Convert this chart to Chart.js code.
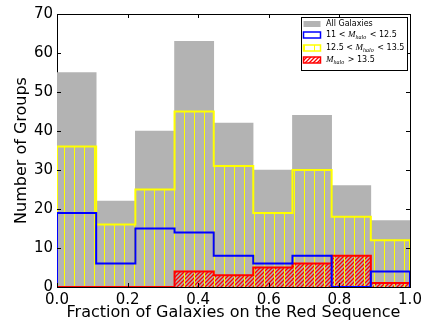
<!DOCTYPE html>
<html>
<head>
<meta charset="utf-8">
<script src="https://cdn.jsdelivr.net/npm/chart.js@4.4.0/dist/chart.umd.min.js"></script>
<style>
  html, body { margin: 0; padding: 0; background: #fff; }
  #wrap { width: 429px; height: 322px; }
</style>
</head>
<body>
<div id="wrap"><canvas id="histChart" width="429" height="322"></canvas></div>
<script>
// histogram bins (fraction on red sequence)
const binEdges = [0.0, 0.111, 0.222, 0.333, 0.444, 0.556, 0.667, 0.778, 0.889, 1.0];

// counts per bin
const allGalaxies = [55, 22, 40, 63, 42, 30, 44, 26, 17];
const lowHalo = [19, 6, 15, 14, 8, 6, 8, 0, 4];      // 11 < M_halo < 12.5
const midHalo = [36, 16, 25, 45, 31, 19, 30, 18, 12]; // 12.5 < M_halo < 13.5
const highHalo = [0, 0, 0, 4, 3, 5, 6, 8, 1];        // M_halo > 13.5

const xTicks = [0.0, 0.2, 0.4, 0.6, 0.8, 1.0];
const yTicks = [0, 10, 20, 30, 40, 50, 60, 70];

const GRAY = '#b3b3b3';
const BLUE = '#0000ff';
const YELLOW = '#ffff00';
const RED = '#ff0000';

function vertHatch(color) {
    const c = document.createElement('canvas');
    c.width = 10; c.height = 4;
    const g = c.getContext('2d');
    g.fillStyle = color;
    g.fillRect(4, 0, 1, 4);
    return g.createPattern(c, 'repeat');
}

function diagHatch(color) {
    const s = 4;
    const c = document.createElement('canvas');
    c.width = s; c.height = s;
    const g = c.getContext('2d');
    g.strokeStyle = color;
    g.lineWidth = 1.3;
    g.beginPath();
    g.moveTo(0, s); g.lineTo(s, 0);
    g.moveTo(-1, 1); g.lineTo(1, -1);
    g.moveTo(s - 1, s + 1); g.lineTo(s + 1, s - 1);
    g.stroke();
    return g.createPattern(c, 'repeat');
}

function bars(vals) {
    return vals.map((v, i) => ({ x: (binEdges[i] + binEdges[i + 1]) / 2, y: v }));
}

function steps(vals) {
    const pts = [{ x: binEdges[0], y: 0 }];
    binEdges.forEach((e, i) => {
        pts.push({ x: e, y: vals[Math.min(i, vals.length - 1)] });
    });
    pts.push({ x: binEdges[binEdges.length - 1], y: 0 });
    return pts;
}

const yellowHatch = vertHatch(YELLOW);
const redHatch = diagHatch(RED);

const barDefaults = { type: 'bar', grouped: false, barPercentage: 1, categoryPercentage: 1, borderWidth: 0 };
const stepDefaults = { type: 'line', stepped: 'before', pointRadius: 0, fill: false, borderWidth: 2 };

// axes frame + inward ticks + legend box
const framePlugin = {
    id: 'frame',
    beforeDatasetsDraw(chart) {
        const { ctx, chartArea: a } = chart;
        ctx.save();
        ctx.strokeStyle = '#000';
        ctx.lineWidth = 1;
        ctx.strokeRect(a.left + 0.5, a.top + 0.5, a.right - a.left, a.bottom - a.top);
        ctx.restore();
    },
    afterDatasetsDraw(chart) {
        const { ctx, chartArea: a, scales } = chart;
        ctx.save();
        ctx.strokeStyle = '#000';
        ctx.lineWidth = 1;
        ctx.beginPath();
        xTicks.forEach(v => {
            const px = Math.round(scales.x.getPixelForValue(v)) + 0.5;
            ctx.moveTo(px, a.bottom); ctx.lineTo(px, a.bottom - 4);
            ctx.moveTo(px, a.top); ctx.lineTo(px, a.top + 4);
        });
        yTicks.forEach(v => {
            const py = Math.round(scales.y.getPixelForValue(v)) + 0.5;
            ctx.moveTo(a.left, py); ctx.lineTo(a.left + 4, py);
            ctx.moveTo(a.right, py); ctx.lineTo(a.right - 4, py);
        });
        ctx.stroke();
        ctx.restore();
    },
    afterDraw(chart) {
        const { ctx, chartArea: a } = chart;
        const bx = a.right - 109, by = a.top + 3, bw = 106, bh = 53;
        ctx.save();
        ctx.fillStyle = '#fff';
        ctx.fillRect(bx, by, bw, bh);
        ctx.strokeStyle = '#000';
        ctx.lineWidth = 1;
        ctx.strokeRect(bx + 0.5, by + 0.5, bw, bh);

        const rows = [by + 7, by + 18, by + 31, by + 43];
        const sx = bx + 2.5, sw = 17, sh = 6;
        // swatches
        ctx.fillStyle = GRAY;
        ctx.fillRect(sx, rows[0] - 3, sw, sh);
        ctx.lineWidth = 1.5;
        ctx.strokeStyle = BLUE;
        ctx.strokeRect(sx, rows[1] - 3, sw, sh);
        ctx.fillStyle = yellowHatch;
        ctx.fillRect(sx, rows[2] - 3, sw, sh);
        ctx.strokeStyle = YELLOW;
        ctx.strokeRect(sx, rows[2] - 3, sw, sh);
        ctx.fillStyle = redHatch;
        ctx.fillRect(sx, rows[3] - 3, sw, sh);
        ctx.strokeStyle = RED;
        ctx.strokeRect(sx, rows[3] - 3, sw, sh);

        // labels
        const tx = bx + 25;
        ctx.fillStyle = '#000';
        ctx.textBaseline = 'middle';
        const sans = "8px 'DejaVu Sans'";
        const mathM = "italic 9px 'Liberation Serif'";
        const mathSub = "italic 6px 'Liberation Serif'";
        const piece = (txt, font, x, y) => {
            ctx.font = font;
            ctx.fillText(txt, x, y);
            return x + ctx.measureText(txt).width;
        };
        const halo = (x, y) => {
            x = piece('M', mathM, x, y);
            return piece('halo', mathSub, x, y + 2.5) + 1;
        };
        piece('All Galaxies', sans, tx, rows[0]);
        let x = piece('11 < ', sans, tx, rows[1]);
        x = halo(x, rows[1]);
        piece(' < 12.5', sans, x, rows[1]);
        x = piece('12.5 < ', sans, tx, rows[2]);
        x = halo(x, rows[2]);
        piece(' < 13.5', sans, x, rows[2]);
        x = halo(tx, rows[3]);
        piece(' > 13.5', sans, x, rows[3]);
        ctx.restore();
    }
};

const config = {
    type: 'bar',
    data: {
        datasets: [
            { ...barDefaults, label: 'All Galaxies', data: bars(allGalaxies), backgroundColor: GRAY, order: 10 },
            { ...barDefaults, label: 'M_halo > 13.5 fill', data: bars(highHalo), backgroundColor: redHatch, order: 9 },
            { ...barDefaults, label: '12.5 < M_halo < 13.5 fill', data: bars(midHalo), backgroundColor: yellowHatch, order: 8 },
            { ...stepDefaults, label: '12.5 < M_halo < 13.5', data: steps(midHalo), borderColor: YELLOW, order: 7 },
            { ...stepDefaults, label: 'M_halo > 13.5', data: steps(highHalo), borderColor: RED, order: 6 },
            { ...stepDefaults, label: '11 < M_halo < 12.5', data: steps(lowHalo), borderColor: BLUE, order: 5 }
        ]
    },
    options: {
        responsive: false,
        animation: false,
        devicePixelRatio: 1,
        layout: { padding: { left: 0, right: 19, top: 14, bottom: 0 } },
        plugins: {
            legend: { display: false },
            tooltip: { enabled: false }
        },
        scales: {
            x: {
                type: 'linear',
                offset: false,
                min: 0,
                max: 1,
                grid: { display: false, drawTicks: false },
                border: { display: false },
                afterBuildTicks: (scale) => { scale.ticks = xTicks.map(v => ({ value: v })); },
                afterFit: (scale) => { scale.height = 35; },
                ticks: {
                    padding: 4,
                    color: '#000',
                    font: { family: 'DejaVu Sans', size: 15 },
                    maxRotation: 0,
                    callback: (v) => v.toFixed(1)
                },
                title: {
                    display: true,
                    text: 'Fraction of Galaxies on the Red Sequence',
                    color: '#000',
                    font: { family: 'DejaVu Sans', size: 16 },
                    padding: { top: 0, bottom: 0 }
                }
            },
            y: {
                min: 0,
                max: 70,
                grid: { display: false, drawTicks: false },
                border: { display: false },
                afterBuildTicks: (scale) => { scale.ticks = yTicks.map(v => ({ value: v })); },
                afterFit: (scale) => { scale.width = 57; },
                ticks: {
                    padding: 4,
                    color: '#000',
                    font: { family: 'DejaVu Sans', size: 15 }
                },
                title: {
                    display: true,
                    text: 'Number of Groups',
                    color: '#000',
                    font: { family: 'DejaVu Sans', size: 16 },
                    padding: { top: 12, bottom: 0 }
                }
            }
        }
    },
    plugins: [framePlugin]
};

new Chart(document.getElementById('histChart').getContext('2d'), config);
</script>
</body>
</html>
